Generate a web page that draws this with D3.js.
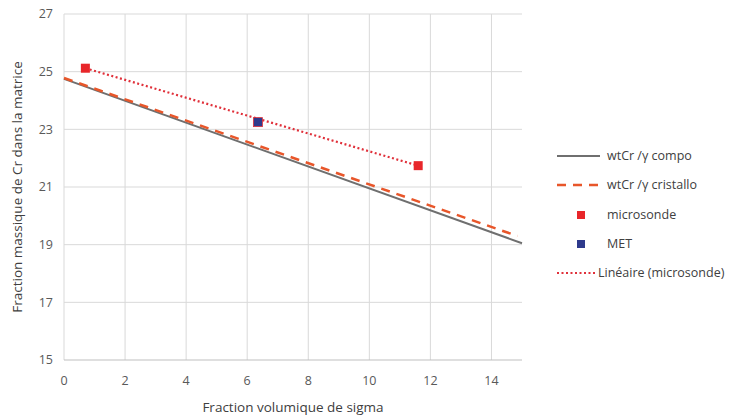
<!DOCTYPE html>
<html><head><meta charset="utf-8">
<script src="https://cdn.jsdelivr.net/npm/d3@7"></script>
<style>body{margin:0;background:#fff;} text{font-family:"Open Sans","Noto Sans",sans-serif;}</style>
</head><body><svg id="c" width="744" height="417"></svg>
<script>
const xTicks = [0,2,4,6,8,10,12,14];
const yTicks = [15,17,19,21,23,25,27];
const compoX = [0, 15];
const compoY = [24.75, 19.05];
const cristalloX = [0, 14.85];
const cristalloY = [24.78, 19.3];
const microX = [0.7, 11.6];
const microY = [25.12, 21.74];
const metX = [6.35];
const metY = [23.25];
const legendLabels = ["wtCr /γ compo","wtCr /γ cristallo","microsonde","MET","Linéaire (microsonde)"];

const svg = d3.select("#c");
const m = {l:64, r:222, t:14, b:57};
const W = 744, H = 417;
const x = d3.scaleLinear().domain([0,15]).range([m.l, W-m.r]);
const y = d3.scaleLinear().domain([15,27]).range([H-m.b, m.t]);

// grid
svg.append("g").selectAll("line").data(yTicks.filter(d=>d>15)).join("line")
  .attr("x1",x(0)).attr("x2",x(15)).attr("y1",d=>y(d)).attr("y2",d=>y(d))
  .attr("stroke","#d9d9d9").attr("stroke-width",1);
svg.append("g").selectAll("line").data(xTicks).join("line")
  .attr("x1",d=>x(d)).attr("x2",d=>x(d)).attr("y1",y(15)).attr("y2",y(27))
  .attr("stroke","#d9d9d9").attr("stroke-width",1);
svg.append("line").attr("x1",x(0)).attr("x2",x(15)).attr("y1",y(15)).attr("y2",y(15))
  .attr("stroke","#bfbfbf").attr("stroke-width",1);

// tick labels
svg.append("g").selectAll("text").data(yTicks).join("text")
  .attr("x",m.l-11).attr("y",d=>y(d)).attr("dy","0.35em").attr("text-anchor","end")
  .attr("font-size",12.5).attr("fill","#595959").text(d=>d);
svg.append("g").selectAll("text").data(xTicks).join("text")
  .attr("x",d=>x(d)).attr("y",y(15)+25).attr("text-anchor","middle")
  .attr("font-size",12.5).attr("fill","#595959").text(d=>d);

// axis titles
svg.append("text").attr("x",(x(0)+x(15))/2).attr("y",412).attr("text-anchor","middle")
  .attr("font-size",13.5).attr("fill","#404040").text("Fraction volumique de sigma");
svg.append("text").attr("transform",`translate(22,${(y(15)+y(27))/2}) rotate(-90)`)
  .attr("text-anchor","middle").attr("font-size",13.5).attr("fill","#404040")
  .text("Fraction massique de Cr dans la matrice");

const line = d3.line().x(d=>x(d[0])).y(d=>y(d[1]));
// compo
svg.append("path").datum(compoX.map((v,i)=>[v,compoY[i]])).attr("d",line)
  .attr("fill","none").attr("stroke","#6f6f6f").attr("stroke-width",2);
// cristallo
svg.append("path").datum(cristalloX.map((v,i)=>[v,cristalloY[i]])).attr("d",line)
  .attr("fill","none").attr("stroke","#e8562a").attr("stroke-width",2.5).attr("stroke-dasharray","9,7");

// linear trend of microsonde
const mx = d3.mean(microX), my = d3.mean(microY);
const slope = d3.sum(microX.map((v,i)=>(v-mx)*(microY[i]-my))) / d3.sum(microX.map(v=>(v-mx)*(v-mx)));
const icpt = my - slope*mx;
const x0 = d3.min(microX), x1 = d3.max(microX);
svg.append("path").datum([[x0,icpt+slope*x0],[x1,icpt+slope*x1]]).attr("d",line)
  .attr("fill","none").attr("stroke","#e0303a").attr("stroke-width",2.2).attr("stroke-dasharray","2,2.5");

// markers
const ms = 9;
svg.append("g").selectAll("rect").data(microX.map((v,i)=>[v,microY[i]])).join("rect")
  .attr("x",d=>x(d[0])-ms/2).attr("y",d=>y(d[1])-ms/2).attr("width",ms).attr("height",ms)
  .attr("fill","#e8262a");
svg.append("g").selectAll("rect").data(metX.map((v,i)=>[v,metY[i]])).join("rect")
  .attr("x",d=>x(d[0])-ms/2).attr("y",d=>y(d[1])-ms/2).attr("width",ms).attr("height",ms)
  .attr("fill","#2e3a8c").attr("stroke","#e0303a").attr("stroke-width",0.8);

// legend
const ly = [156,185,215,244,273];
const lg = svg.append("g");
lg.append("line").attr("x1",557).attr("x2",600).attr("y1",ly[0]).attr("y2",ly[0]).attr("stroke","#6f6f6f").attr("stroke-width",2);
lg.append("line").attr("x1",557).attr("x2",600).attr("y1",ly[1]).attr("y2",ly[1]).attr("stroke","#e8562a").attr("stroke-width",2.5).attr("stroke-dasharray","9,7");
lg.append("rect").attr("x",581-4).attr("y",ly[2]-4).attr("width",8).attr("height",8).attr("fill","#e8262a");
lg.append("rect").attr("x",581-4).attr("y",ly[3]-4).attr("width",8).attr("height",8).attr("fill","#2e3a8c");
lg.append("line").attr("x1",557).attr("x2",596).attr("y1",ly[4]).attr("y2",ly[4]).attr("stroke","#e0303a").attr("stroke-width",2.2).attr("stroke-dasharray","2,2.5");
lg.selectAll("text").data(legendLabels).join("text")
  .attr("x",(d,i)=> (i===2||i===3)?607:(i===4?598:607)).attr("y",(d,i)=>ly[i]).attr("dy","0.35em")
  .attr("font-size",12.5).attr("fill","#404040").text(d=>d);
</script></body></html>
